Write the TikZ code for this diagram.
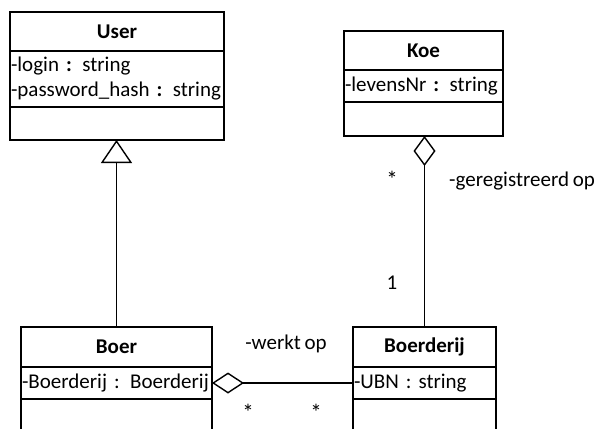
\documentclass[tikz,border=0pt]{standalone}
\usepackage{fontspec}
\setmainfont{Carlito}[WordSpace=0.8]
\usetikzlibrary{arrows.meta}
\newcommand{\umlfont}{\fontsize{21}{25}\selectfont}
\tikzset{
  cls/.style={draw, line width=1.6pt, inner sep=0pt, outer sep=0pt, font=\umlfont},
  title/.style={cls, font=\umlfont\bfseries, align=center},
  attrs/.style={cls, align=left, inner xsep=1pt},
  conn/.style={line width=1.2pt},
  lbl/.style={font=\umlfont, inner sep=0pt},
  star/.style={font=\fontsize{23}{25}\selectfont, inner sep=0pt, text height=14pt, text depth=0pt},
}
\begin{document}
\begin{tikzpicture}[x=1pt, y=-1pt]
\useasboundingbox (0,0) rectangle (601,428);

% User class
\node[title, minimum width=214, minimum height=39] (user) at (117,31.5) {User};
\node[attrs, minimum width=214, minimum height=56, text width=212] (user-a) at (117,79)
  {-login \textbf{:} string\\-password\_hash \textbf{:} string};
\node[cls, minimum width=214, minimum height=33] (user-o) at (117,123.5) {};

% Koe class
\node[title, minimum width=159, minimum height=39] (koe) at (423.5,50.5) {Koe};
\node[attrs, minimum width=159, minimum height=32, text width=157] (koe-a) at (423.5,86)
  {-levensNr \textbf{:} string};
\node[cls, minimum width=159, minimum height=34] (koe-o) at (423.5,119) {};

% Boer class
\node[title, minimum width=191, minimum height=40] (boer) at (116.5,347) {Boer};
\node[attrs, minimum width=191, minimum height=32, text width=189] (boer-a) at (116.5,383)
  {-Boerderij : Boerderij};
\node[cls, minimum width=191, minimum height=40] (boer-o) at (116.5,419) {};

% Boerderij class
\node[title, minimum width=143, minimum height=40] (boerderij) at (424.5,347) {Boerderij};
\node[attrs, minimum width=143, minimum height=32, text width=141] (boerderij-a) at (424.5,383)
  {-UBN : string};
\node[cls, minimum width=143, minimum height=40] (boerderij-o) at (424.5,419) {};

% Generalisation Boer -> User
\draw[conn, -{Triangle[open, length=23pt, width=31pt, line width=1.4pt]}]
  (boer.north) -- (boer.north |- user-o.south);

% Aggregation Koe <>-- Boerderij
\draw[conn, -{Diamond[open, length=30pt, width=22pt, line width=1.4pt]}]
  (boerderij.north) -- (boerderij.north |- koe-o.south);
\node[star] (m-koe) at (392,180) {*};
\node[lbl, anchor=west] (r-koe) at (449,181) {-geregistreerd op};
\node[lbl] (m-boerderij) at (392,283) {1};

% Aggregation Boer <>-- Boerderij
\draw[conn, -{Diamond[open, length=32pt, width=21pt, line width=1.4pt]}]
  (boerderij-a.west) -- (boer-a.east);
\node[lbl] (r-boer) at (286,344) {-werkt op};
\node[star] (m-boer) at (248,413.5) {*};
\node[star] (m-farm) at (316,413.5) {*};
\end{tikzpicture}
\end{document}
